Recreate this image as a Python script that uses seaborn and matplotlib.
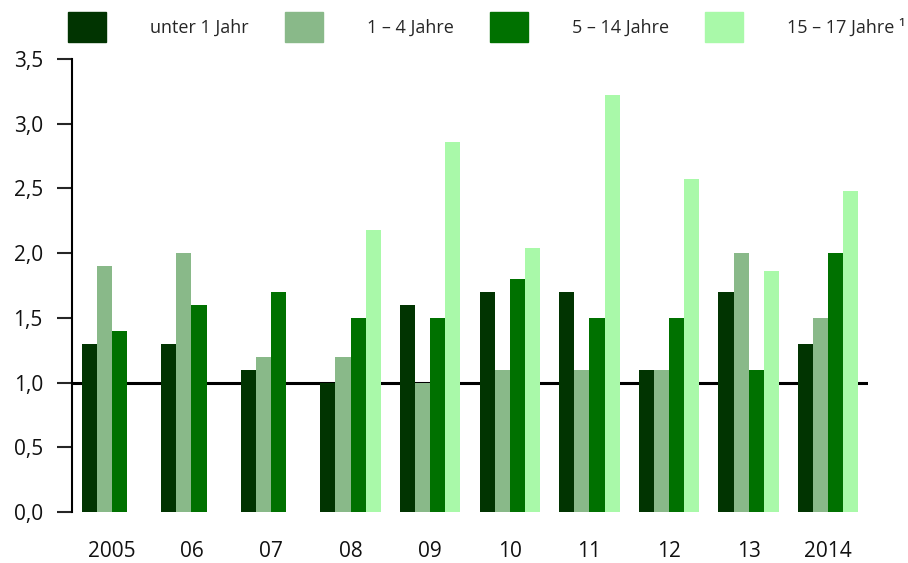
import seaborn as sns
import matplotlib.pyplot as plt
import pandas as pd
import numpy as np

# ------------------------------
# data
# ------------------------------
years = ["2005", "06", "07", "08", "09", "10", "11", "12", "13", "2014"]
groups = ["unter 1 Jahr", "1 – 4 Jahre", "5 – 14 Jahre", "15 – 17 Jahre ¹"]

unter_1 = [1.3, 1.3, 1.1, 1.0, 1.6, 1.7, 1.7, 1.1, 1.7, 1.3]
jahre_1_4 = [1.9, 2.0, 1.2, 1.2, 1.0, 1.1, 1.1, 1.1, 2.0, 1.5]
jahre_5_14 = [1.4, 1.6, 1.7, 1.5, 1.5, 1.8, 1.5, 1.5, 1.1, 2.0]
jahre_15_17 = [np.nan, np.nan, np.nan, 2.18, 2.86, 2.04, 3.22, 2.57, 1.86, 2.48]

colors = ["#013401", "#89B989", "#007100", "#A9F9A9"]

df = pd.DataFrame({
    "Jahr": years * 4,
    "Gruppe": np.repeat(groups, len(years)),
    "Wert": unter_1 + jahre_1_4 + jahre_5_14 + jahre_15_17,
})

# ------------------------------
# style
# ------------------------------
sns.set_style("white")
plt.rcParams["font.family"] = ["Open Sans", "DejaVu Sans"]

fig = plt.figure(figsize=(9.08, 5.63), dpi=100)
ax = fig.add_axes([0.0793, 0.0906, 0.8767, 0.8046])

ax.axhline(1.0, color="black", lw=2.2, zorder=0.5)

sns.barplot(
    data=df, x="Jahr", y="Wert", hue="Gruppe",
    order=years, hue_order=groups, palette=colors,
    width=0.76, saturation=1, gap=0, linewidth=0,
    errorbar=None, ax=ax, zorder=2,
)

ax.set_xlim(-0.5, 9.5)
ax.set_ylim(0, 3.5)
ticks = np.arange(0, 3.51, 0.5)
ax.set_yticks(ticks)
ax.set_yticklabels([f"{v:.1f}".replace(".", ",") for v in ticks])
ax.set_xlabel("")
ax.set_ylabel("")

for s in ["top", "right", "bottom"]:
    ax.spines[s].set_visible(False)
ax.spines["left"].set_linewidth(1.5)
ax.spines["left"].set_color("black")

ax.tick_params(axis="y", length=11, width=1.5, pad=10, labelsize=15,
               left=True, labelcolor="#111111")
ax.tick_params(axis="x", length=0, pad=21, labelsize=15, labelcolor="#111111")

# legend across the top
ax.legend_.remove()
handles = [plt.Rectangle((0, 0), 1, 1, color=c) for c in colors]
fig.legend(
    handles, groups, loc="upper left", bbox_to_anchor=(0.075, 0.978),
    ncol=4, frameon=False, fontsize=13,
    handlelength=2.1, handleheight=2.18, handletextpad=2.44,
    columnspacing=2.0, borderaxespad=0, borderpad=0,
)

plt.savefig("out.png", dpi=100)
plt.close()
